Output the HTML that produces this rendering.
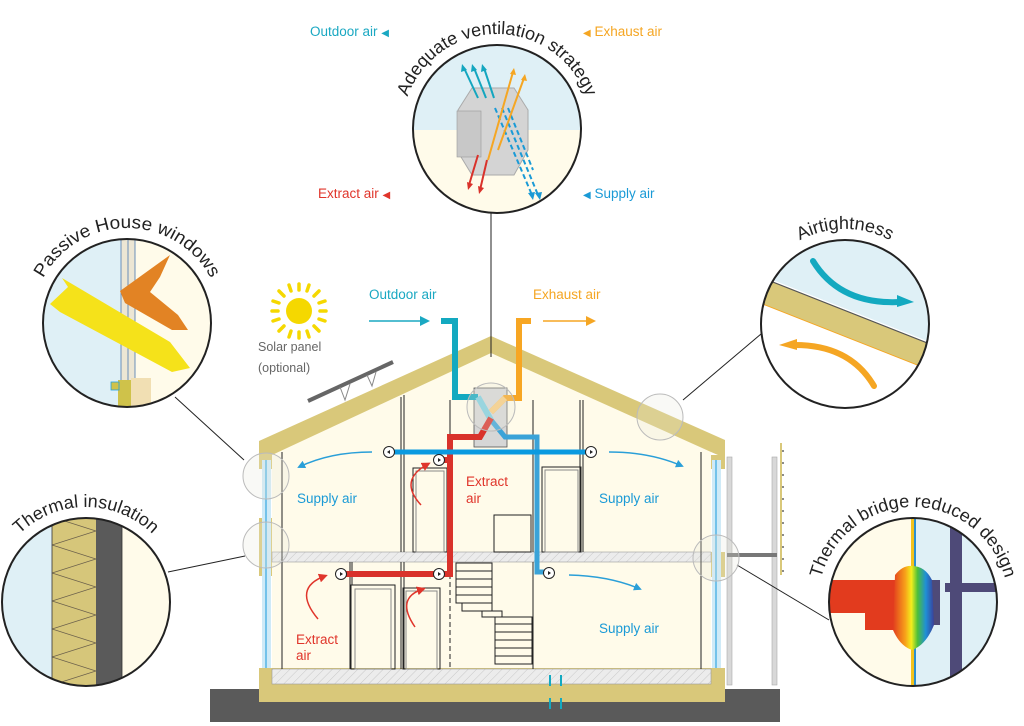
<!DOCTYPE html>
<html><head><meta charset="utf-8"><style>
html,body{margin:0;padding:0;background:#fff;}
svg{display:block;font-family:"Liberation Sans",sans-serif;}
</style></head><body>
<svg width="1024" height="726" viewBox="0 0 1024 726" xmlns="http://www.w3.org/2000/svg">
<defs>
<marker id="mb" markerWidth="8" markerHeight="8" refX="6" refY="4" orient="auto" markerUnits="userSpaceOnUse"><path d="M0,0 L8,4 L0,8 z" fill="#2a9fd8"/></marker>
<marker id="mr" markerWidth="9" markerHeight="9" refX="6" refY="4.5" orient="auto" markerUnits="userSpaceOnUse"><path d="M0,0 L9,4.5 L0,9 z" fill="#e0352b"/></marker>
<marker id="mt" markerWidth="10" markerHeight="10" refX="6" refY="5" orient="auto" markerUnits="userSpaceOnUse"><path d="M0,0 L10,5 L0,10 z" fill="#1aa8c2"/></marker>
<marker id="mo" markerWidth="10" markerHeight="10" refX="6" refY="5" orient="auto" markerUnits="userSpaceOnUse"><path d="M0,0 L10,5 L0,10 z" fill="#f5a623"/></marker>
<pattern id="hatch" width="6" height="6" patternUnits="userSpaceOnUse" patternTransform="rotate(45)"><rect width="6" height="6" fill="#ececec"/><line x1="0" y1="0" x2="0" y2="6" stroke="#c8c8c8" stroke-width="1"/></pattern>
<pattern id="zig" width="44" height="28" patternUnits="userSpaceOnUse" x="52" y="517"><rect width="44" height="28" fill="#d6c67a"/><path d="M0,0 L44,14 L0,28" fill="none" stroke="#6a5f4a" stroke-width="0.8"/></pattern>
<linearGradient id="heat" x1="0" x2="1"><stop offset="0" stop-color="#e23b1e"/><stop offset="0.3" stop-color="#f7a21a"/><stop offset="0.45" stop-color="#f3ee1c"/><stop offset="0.6" stop-color="#4cbf3a"/><stop offset="0.8" stop-color="#1f8fd6"/><stop offset="1" stop-color="#3a3f9a"/></linearGradient>
<clipPath id="c1"><circle cx="497" cy="129" r="84"/></clipPath>
<clipPath id="c2"><circle cx="127" cy="323" r="84"/></clipPath>
<clipPath id="c3"><circle cx="86" cy="602" r="84"/></clipPath>
<clipPath id="c4"><circle cx="845" cy="324" r="84"/></clipPath>
<clipPath id="c5"><circle cx="913" cy="602" r="84"/></clipPath>
<path id="a1" d="M402,129 A95,95 0 0 1 592,129"/>
<path id="a2" d="M32,323 A95,95 0 0 1 222,323"/>
<path id="a3" d="M-9,602 A95,95 0 0 1 181,602"/>
<path id="a4" d="M750,324 A95,95 0 0 1 940,324"/>
<path id="a5" d="M818,602 A95,95 0 0 1 1008,602"/>
</defs>

<rect x="210" y="689" width="570" height="33" fill="#5a5a5a"/>

<polygon points="272,452 491,350 711,452 711,669 272,669" fill="#fffbea"/>
<polygon points="259,441 491,336 725,440 725,458 711,452 491,353 272,455 272,462 259,462" fill="#d9c87a"/>
<rect x="259" y="455" width="13" height="14" fill="#d9c87a"/>
<rect x="259" y="518" width="13" height="58" fill="#d9c87a"/>
<rect x="711" y="455" width="14" height="14" fill="#d9c87a"/>
<rect x="711" y="552" width="14" height="25" fill="#d9c87a"/>
<rect x="262" y="460" width="9" height="208" fill="#cfeaf7"/>
<line x1="266" y1="460" x2="266" y2="668" stroke="#55b5e6" stroke-width="1.5"/>
<rect x="712" y="460" width="9" height="208" fill="#cfeaf7"/>
<line x1="716" y1="460" x2="716" y2="668" stroke="#55b5e6" stroke-width="1.5"/>
<rect x="272" y="552" width="439" height="10" fill="url(#hatch)" stroke="#999" stroke-width="0.6"/>
<rect x="259" y="668" width="466" height="34" fill="#d9c87a"/>
<rect x="272" y="669" width="439" height="15" fill="url(#hatch)" stroke="#999" stroke-width="0.6"/>
<g stroke="#222" stroke-width="1" fill="none">
<line x1="282" y1="452" x2="282" y2="669"/>
<line x1="701" y1="452" x2="701" y2="669"/>
<line x1="401" y1="397" x2="401" y2="552"/><line x1="404" y1="395" x2="404" y2="552"/>
<line x1="533" y1="400" x2="533" y2="552"/>
<line x1="580" y1="400" x2="580" y2="552"/><line x1="583" y1="400" x2="583" y2="552"/>
<line x1="401" y1="562" x2="401" y2="669"/><line x1="404" y1="562" x2="404" y2="669"/>
<line x1="533" y1="562" x2="533" y2="669"/>
<rect x="413" y="468" width="34" height="84"/><rect x="416" y="471" width="28" height="81" stroke="#888"/>
<rect x="542" y="467" width="39" height="85"/><rect x="545" y="470" width="33" height="82" stroke="#888"/>
<rect x="494" y="515" width="37" height="37"/>
<rect x="351" y="585" width="44" height="84"/><rect x="355" y="589" width="36" height="80" stroke="#888"/>
<rect x="403" y="588" width="37" height="81"/><rect x="406" y="591" width="31" height="78" stroke="#888"/>
<line x1="350" y1="562" x2="350" y2="669"/><line x1="352" y1="562" x2="352" y2="585"/>
<line x1="450" y1="574" x2="450" y2="669" stroke-dasharray="5,3"/>
<rect x="456" y="563" width="36" height="8"/><rect x="456" y="571" width="36" height="8"/><rect x="456" y="579" width="36" height="8"/><rect x="456" y="587" width="36" height="8"/><rect x="456" y="595" width="36" height="8"/>
<rect x="462" y="603" width="30" height="8"/><rect x="482" y="611" width="20" height="6"/>
<rect x="495" y="617" width="37" height="7"/><rect x="495" y="624" width="37" height="8"/><rect x="495" y="632" width="37" height="8"/><rect x="495" y="640" width="37" height="8"/><rect x="495" y="648" width="37" height="8"/><rect x="495" y="656" width="37" height="8"/>
<line x1="450" y1="400" x2="450" y2="437"/>
</g>
<rect x="727" y="457" width="5" height="228" fill="#d8d8d8" stroke="#aaa" stroke-width="0.6"/>
<rect x="772" y="457" width="5" height="228" fill="#d8d8d8" stroke="#aaa" stroke-width="0.6"/>
<line x1="781" y1="443" x2="781" y2="575" stroke="#d9c87a" stroke-width="2"/>
<g fill="#666"><circle cx="783" cy="451" r="1"/><circle cx="783" cy="463" r="1"/><circle cx="783" cy="475" r="1"/><circle cx="783" cy="487" r="1"/><circle cx="783" cy="499" r="1"/><circle cx="783" cy="511" r="1"/><circle cx="783" cy="523" r="1"/><circle cx="783" cy="535" r="1"/><circle cx="783" cy="547" r="1"/><circle cx="783" cy="559" r="1"/><circle cx="783" cy="571" r="1"/></g>
<rect x="727" y="553" width="50" height="4" fill="#777"/>

<line x1="308" y1="401" x2="393" y2="362" stroke="#666" stroke-width="4"/>
<path d="M340,387 L345,400 L350,384 M367,375 L372,386 L376,372" stroke="#888" fill="none" stroke-width="1"/>
<g stroke="#f5d800" stroke-width="3.5" stroke-linecap="round">
<line x1="299" y1="290" x2="299" y2="284"/><line x1="299" y1="332" x2="299" y2="338"/><line x1="278" y1="311" x2="272" y2="311"/><line x1="320" y1="311" x2="326" y2="311"/>
<line x1="284" y1="296" x2="279" y2="291"/><line x1="314" y1="296" x2="319" y2="291"/><line x1="284" y1="326" x2="279" y2="331"/><line x1="314" y1="326" x2="319" y2="331"/>
<line x1="291" y1="291" x2="289" y2="285"/><line x1="307" y1="291" x2="309" y2="285"/><line x1="291" y1="331" x2="289" y2="337"/><line x1="307" y1="331" x2="309" y2="337"/>
<line x1="279" y1="303" x2="273" y2="301"/><line x1="319" y1="303" x2="325" y2="301"/><line x1="279" y1="319" x2="273" y2="321"/><line x1="319" y1="319" x2="325" y2="321"/>
</g>
<circle cx="299" cy="311" r="13" fill="#f5d800"/>
<text x="258" y="351" font-size="12.5" fill="#666">Solar panel</text>
<text x="258" y="372" font-size="12.5" fill="#666">(optional)</text>

<line x1="491" y1="213" x2="491" y2="357" stroke="#222" stroke-width="1"/>
<line x1="175" y1="397" x2="244" y2="460" stroke="#222" stroke-width="1"/>
<line x1="168" y1="572" x2="245" y2="556" stroke="#222" stroke-width="1"/>
<line x1="761" y1="334" x2="683" y2="400" stroke="#222" stroke-width="1"/>
<line x1="829" y1="620" x2="737" y2="565" stroke="#222" stroke-width="1"/>

<rect x="474" y="388" width="33" height="59" fill="#d6d6d6" stroke="#555" stroke-width="0.8"/>
<polyline points="441,321 455,321 455,397 478,397" fill="none" stroke="#13a9c0" stroke-width="6"/>
<polyline points="478,397 491,420 505,437 537,437 537,572 547,572" fill="none" stroke="#3aa3d8" stroke-width="5"/>
<line x1="478" y1="397" x2="491" y2="420" stroke="#7fcfe0" stroke-width="6"/>
<polyline points="531,321 519,321 519,398 505,398 491,412" fill="none" stroke="#f7a623" stroke-width="6"/>
<line x1="505" y1="398" x2="491" y2="412" stroke="#f8cc80" stroke-width="6"/>
<polyline points="491,418 480,437 450,437 450,574 341,574" fill="none" stroke="#d9322b" stroke-width="6"/>
<line x1="450" y1="460" x2="439" y2="460" stroke="#d9322b" stroke-width="6"/>
<line x1="389" y1="452" x2="591" y2="452" stroke="#0a9ae0" stroke-width="5"/>
<g fill="#fff" stroke="#222" stroke-width="1">
<circle cx="389" cy="452" r="5.5"/><circle cx="591" cy="452" r="5.5"/><circle cx="439" cy="460" r="5.5"/>
<circle cx="341" cy="574" r="5.5"/><circle cx="439" cy="574" r="5.5"/><circle cx="549" cy="573" r="5.5"/>
</g>
<g fill="#222"><path d="M387,452 l3,-2 v4z"/><path d="M593,452 l-3,-2 v4z"/><path d="M441,460 l-3,-2 v4z"/><path d="M343,574 l-3,-2 v4z"/><path d="M441,574 l-3,-2 v4z"/><path d="M551,573 l-3,-2 v4z"/></g>
<g fill="rgba(230,230,220,0.25)" stroke="#bbb" stroke-width="1">
<circle cx="491" cy="407" r="24"/><circle cx="266" cy="476" r="23"/><circle cx="266" cy="545" r="23"/><circle cx="660" cy="417" r="23"/><circle cx="716" cy="558" r="23"/>
</g>
<line x1="369" y1="321" x2="426" y2="321" stroke="#1aa8c2" stroke-width="1.5" marker-end="url(#mt)"/>
<line x1="543" y1="321" x2="592" y2="321" stroke="#f5a623" stroke-width="1.5" marker-end="url(#mo)"/>
<g fill="none" stroke-width="1.5">
<path d="M372,452 Q330,452 299,467" stroke="#2a9fd8" marker-end="url(#mb)"/>
<path d="M609,452 Q650,452 682,466" stroke="#2a9fd8" marker-end="url(#mb)"/>
<path d="M569,575 Q610,576 640,589" stroke="#2a9fd8" marker-end="url(#mb)"/>
<path d="M421,505 Q398,480 428,464" stroke="#e0352b" marker-end="url(#mr)"/>
<path d="M318,619 Q292,588 325,576" stroke="#e0352b" marker-end="url(#mr)"/>
<path d="M415,627 Q395,598 423,589" stroke="#e0352b" marker-end="url(#mr)"/>
</g>
<g font-size="13.5">
<text x="297" y="503" fill="#1a9ad6">Supply air</text>
<text x="599" y="503" fill="#1a9ad6">Supply air</text>
<text x="599" y="633" fill="#1a9ad6">Supply air</text>
<text x="466" y="486" fill="#e0352b">Extract</text><text x="466" y="503" fill="#e0352b">air</text>
<text x="296" y="644" fill="#e0352b">Extract</text><text x="296" y="660" fill="#e0352b">air</text>
<text x="369" y="299" fill="#1aa8c2">Outdoor air</text>
<text x="533" y="299" fill="#f5a623">Exhaust air</text>
<text x="310" y="36" fill="#1aa8c2">Outdoor air <tspan font-size="10">◀</tspan></text>
<text x="583" y="36" fill="#f5a623"><tspan font-size="10">◀</tspan> Exhaust air</text>
<text x="318" y="198" fill="#e0352b">Extract air <tspan font-size="10">◀</tspan></text>
<text x="583" y="198" fill="#1a9ad6"><tspan font-size="10">◀</tspan> Supply air</text>
</g>

<g clip-path="url(#c1)">
<rect x="410" y="40" width="180" height="90" fill="#dff0f6"/>
<rect x="410" y="130" width="180" height="90" fill="#fffbea"/>
<polygon points="458,110 472,88 514,88 528,110 528,150 514,175 472,175 458,152" fill="#d4d4d4" stroke="#aaa"/>
<rect x="457" y="111" width="24" height="46" fill="#c8c8c8" stroke="#999" stroke-width="0.6"/>
<g stroke-width="2" fill="none">
<line x1="478" y1="98" x2="464" y2="68" stroke="#14a6bf"/><line x1="486" y1="98" x2="474" y2="68" stroke="#14a6bf"/><line x1="494" y1="98" x2="484" y2="68" stroke="#14a6bf"/>
<line x1="495" y1="108" x2="532" y2="195" stroke="#1a9ad6" stroke-dasharray="5,3"/><line x1="502" y1="108" x2="538" y2="195" stroke="#1a9ad6" stroke-dasharray="5,3"/><line x1="508" y1="108" x2="533" y2="170" stroke="#1a9ad6" stroke-dasharray="5,3"/>
<line x1="488" y1="160" x2="513" y2="72" stroke="#f5a623"/><line x1="498" y1="150" x2="524" y2="78" stroke="#f5a623"/>
<line x1="478" y1="155" x2="469" y2="185" stroke="#d9322b"/><line x1="487" y1="160" x2="480" y2="190" stroke="#d9322b"/>
</g>
<g fill="#14a6bf"><path d="M462,64 l-1,8 l6,-2z"/><path d="M472,64 l-1,8 l6,-2z"/><path d="M482,64 l-1,8 l6,-2z"/></g>
<g fill="#f5a623"><path d="M514,68 l-4,6 l6,1z"/><path d="M525,74 l-4,6 l6,1z"/></g>
<g fill="#d9322b"><path d="M468,190 l-1,-8 l6,2z"/><path d="M479,194 l-1,-8 l6,2z"/></g>
<g fill="#1a9ad6"><path d="M533,200 l-5,-7 l7,-1z"/><path d="M540,200 l-5,-7 l7,-1z"/></g>
</g>
<circle cx="497" cy="129" r="84" fill="none" stroke="#222" stroke-width="2"/>
<text font-size="18" fill="#222"><textPath href="#a1" startOffset="50%" text-anchor="middle">Adequate ventilation strategy</textPath></text>

<g clip-path="url(#c2)">
<rect x="40" y="235" width="82" height="180" fill="#dff0f6"/>
<rect x="122" y="235" width="100" height="180" fill="#fffbea"/>
<rect x="121" y="235" width="14" height="147" fill="#ece6d4" stroke="#4a78b0" stroke-width="0.8"/>
<line x1="128" y1="235" x2="128" y2="382" stroke="#4a78b0" stroke-width="0.8"/>
<polygon points="50,304 68,287 62,278 170,342 190,368 172,372 60,312" fill="#f5e21a"/>
<polygon points="120,291 170,255 160,277 150,292 178,315 188,330 172,330 125,303" fill="#e28324"/>
<rect x="118" y="380" width="14" height="28" fill="#cfc24a"/>
<rect x="131" y="378" width="20" height="30" fill="#f1dfb3"/>
<rect x="111" y="382" width="8" height="8" fill="#cfc24a" stroke="#20a0e0" stroke-width="0.8"/>
</g>
<circle cx="127" cy="323" r="84" fill="none" stroke="#222" stroke-width="2"/>
<text font-size="18" fill="#222"><textPath href="#a2" startOffset="50%" text-anchor="middle" textLength="205" lengthAdjust="spacingAndGlyphs">Passive House windows</textPath></text>

<g clip-path="url(#c3)">
<rect x="0" y="515" width="52" height="180" fill="#dff0f6"/>
<rect x="52" y="515" width="44" height="180" fill="url(#zig)"/>
<rect x="96" y="515" width="26" height="180" fill="#5a5a5a"/>
<rect x="122" y="515" width="60" height="180" fill="#fffbea"/>
<line x1="52" y1="515" x2="52" y2="690" stroke="#333" stroke-width="0.8"/>
<line x1="122" y1="515" x2="122" y2="690" stroke="#333" stroke-width="0.8"/>
</g>
<circle cx="86" cy="602" r="84" fill="none" stroke="#222" stroke-width="2"/>
<text font-size="18" fill="#222"><textPath href="#a3" startOffset="50%" text-anchor="middle">Thermal insulation</textPath></text>

<g clip-path="url(#c4)">
<rect x="755" y="235" width="180" height="180" fill="#fff"/>
<polygon points="755,235 935,235 935,344 755,273" fill="#dff0f6"/>
<polygon points="755,275 935,346 935,372 755,301" fill="#d9c87a"/>
<line x1="755" y1="275" x2="935" y2="346" stroke="#555" stroke-width="1.2"/>
<line x1="755" y1="301" x2="935" y2="372" stroke="#f5a623" stroke-width="1"/>
<path d="M813,261 Q840,305 900,302" fill="none" stroke="#13a9c0" stroke-width="6" stroke-linecap="round"/>
<path d="M897,295 L914,302 L897,307z" fill="#13a9c0"/>
<path d="M874,386 Q850,345 795,345" fill="none" stroke="#f5a623" stroke-width="6" stroke-linecap="round"/>
<path d="M797,339 L779,345 L797,350z" fill="#f5a623"/>
</g>
<circle cx="845" cy="324" r="84" fill="none" stroke="#222" stroke-width="2"/>
<text font-size="18" fill="#222"><textPath href="#a4" startOffset="50%" text-anchor="middle">Airtightness</textPath></text>

<g clip-path="url(#c5)">
<rect x="825" y="515" width="88" height="180" fill="#fffbea"/>
<rect x="913" y="515" width="90" height="180" fill="#dff0f6"/>
<rect x="911" y="515" width="3" height="180" fill="#f3c21c"/>
<rect x="914" y="515" width="2" height="180" fill="#2c8fcf"/>
<rect x="950" y="515" width="12" height="180" fill="#4e4a78"/>
<rect x="945" y="583" width="60" height="9" fill="#4e4a78"/>
<rect x="928" y="580" width="12" height="45" fill="#4e4a78"/>
<rect x="830" y="580" width="70" height="33" fill="#e23b1e"/>
<rect x="865" y="610" width="35" height="20" fill="#e23b1e"/>
<path d="M895,575 Q903,565 912,566 Q925,566 932,580 L934,625 Q926,645 912,650 Q900,646 893,630z" fill="url(#heat)"/>
</g>
<circle cx="913" cy="602" r="84" fill="none" stroke="#222" stroke-width="2"/>
<text font-size="18" fill="#222"><textPath href="#a5" startOffset="50%" text-anchor="middle" textLength="250" lengthAdjust="spacingAndGlyphs">Thermal bridge reduced design</textPath></text>

<g stroke="#13a9c0" stroke-width="2"><line x1="550" y1="675" x2="550" y2="686"/><line x1="561" y1="675" x2="561" y2="686"/><line x1="550" y1="698" x2="550" y2="709"/><line x1="561" y1="698" x2="561" y2="709"/></g>
</svg>
</body></html>
